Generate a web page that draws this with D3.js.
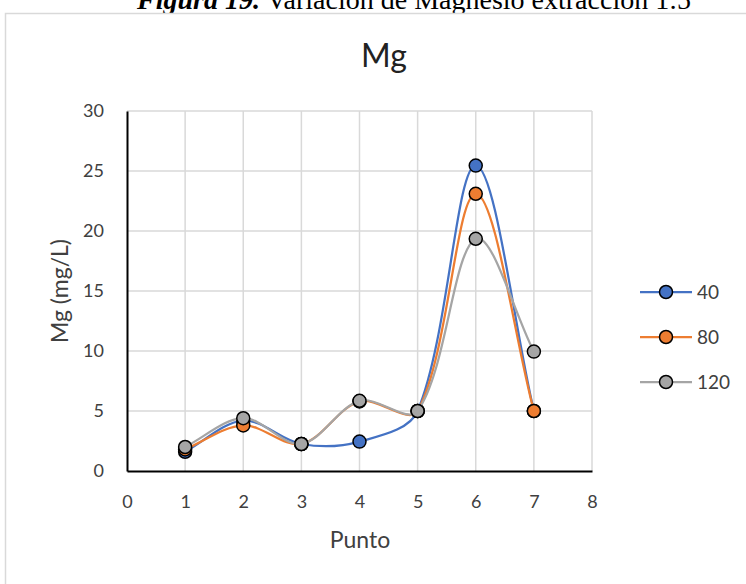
<!DOCTYPE html>
<html>
<head>
<meta charset="utf-8">
<script src="https://cdn.jsdelivr.net/npm/d3@7"></script>
<style>
  html, body { margin: 0; padding: 0; background: #fff; }
  svg { display: block; }
</style>
</head>
<body>
<svg id="chart" width="746" height="584"></svg>
<script>
// Magnesium per sampling point for three extraction times
const puntos = [1, 2, 3, 4, 5, 6, 7];
const serie40 = [1.6, 4.2, 2.25, 2.45, 5.0, 25.45, 5.0];
const serie80 = [1.8, 3.8, 2.25, 5.8, 5.0, 23.1, 5.0];
const serie120 = [2.0, 4.4, 2.25, 5.85, 5.0, 19.35, 9.95];
const seriesNames = ["40", "80", "120"];
const seriesColors = ["#4472C4", "#ED7D31", "#A5A5A5"];
const xTicks = [0, 1, 2, 3, 4, 5, 6, 7, 8];
const yTicks = [0, 5, 10, 15, 20, 25, 30];

const series = [serie40, serie80, serie120].map((vals, i) => ({
  name: seriesNames[i],
  color: seriesColors[i],
  points: puntos.map((p, j) => ({ x: p, y: vals[j] }))
}));

const svg = d3.select("#chart");
const font = "Lato, 'Open Sans', sans-serif";
const textColor = "#404040";

// Caption above the chart frame
svg.append("text")
  .attr("x", 137).attr("y", 9)
  .attr("font-family", "'Liberation Serif', 'Times New Roman', serif")
  .attr("font-size", 28)
  .attr("fill", "#000")
  .call(t => {
    t.append("tspan").attr("font-weight", "bold").attr("font-style", "italic").text("Figura 19.");
    t.append("tspan").text(" Variación de Magnesio extracción 1:5");
  });

// Chart frame
svg.append("rect")
  .attr("x", 5.5).attr("y", 13.5)
  .attr("width", 760).attr("height", 600)
  .attr("fill", "#fff")
  .attr("stroke", "#d9d9d9").attr("stroke-width", 1.5);

const x = d3.scaleLinear().domain([0, 8]).range([127, 592]);
const y = d3.scaleLinear().domain([0, 30]).range([471, 111]);

// Gridlines
const grid = svg.append("g");
grid.selectAll(".vg").data(xTicks.slice(1)).join("line")
  .attr("x1", d => x(d)).attr("x2", d => x(d))
  .attr("y1", y(30)).attr("y2", y(0))
  .attr("stroke", "#d9d9d9").attr("stroke-width", 1.5);
grid.selectAll(".hg").data(yTicks.slice(1)).join("line")
  .attr("x1", x(0)).attr("x2", x(8))
  .attr("y1", d => y(d)).attr("y2", d => y(d))
  .attr("stroke", "#d9d9d9").attr("stroke-width", 1.5);

// Axes
const xAxis = svg.append("g")
  .attr("transform", `translate(0,${y(0)})`)
  .call(d3.axisBottom(x).tickValues(xTicks).tickSize(0).tickPadding(24));
const yAxis = svg.append("g")
  .attr("transform", `translate(${x(0)},0)`)
  .call(d3.axisLeft(y).tickValues(yTicks).tickSize(0).tickPadding(23));
[xAxis, yAxis].forEach(a => {
  a.select(".domain").attr("stroke", "#000").attr("stroke-width", 2);
  a.selectAll("text").attr("font-family", font).attr("font-size", 18).attr("fill", textColor);
});

// Titles
svg.append("text")
  .attr("x", 384).attr("y", 67)
  .attr("text-anchor", "middle")
  .attr("font-family", font).attr("font-size", 32).attr("fill", "#222")
  .text("Mg");
svg.append("text")
  .attr("x", 360).attr("y", 548)
  .attr("text-anchor", "middle")
  .attr("font-family", font).attr("font-size", 23).attr("fill", textColor)
  .text("Punto");
svg.append("text")
  .attr("transform", "translate(68,291) rotate(-90)")
  .attr("text-anchor", "middle")
  .attr("font-family", font).attr("font-size", 23).attr("fill", textColor)
  .text("Mg (mg/L)");

// Smoothed line: cubic Bezier whose control arms follow the chord through
// the neighbouring points, each arm scaled by the adjacent segment length.
function smoothPath(pts, k = 1 / 3) {
  const n = pts.length;
  if (n < 2) return "";
  const dist = (a, b) => Math.hypot(b[0] - a[0], b[1] - a[1]);
  const outC = [], inC = [];
  for (let i = 0; i < n; i++) {
    const p = pts[i];
    const prev = pts[Math.max(0, i - 1)];
    const next = pts[Math.min(n - 1, i + 1)];
    const dx = next[0] - prev[0], dy = next[1] - prev[1];
    const dp = i > 0 ? dist(prev, p) : 0;
    const dn = i < n - 1 ? dist(p, next) : 0;
    const tot = dp + dn || 1;
    outC[i] = [p[0] + dx * k * dn / tot, p[1] + dy * k * dn / tot];
    inC[i] = [p[0] - dx * k * dp / tot, p[1] - dy * k * dp / tot];
  }
  const path = d3.path();
  path.moveTo(pts[0][0], pts[0][1]);
  for (let i = 0; i < n - 1; i++) {
    path.bezierCurveTo(outC[i][0], outC[i][1], inC[i + 1][0], inC[i + 1][1], pts[i + 1][0], pts[i + 1][1]);
  }
  return path.toString();
}

series.forEach(s => {
  const g = svg.append("g");
  g.append("path")
    .attr("d", smoothPath(s.points.map(d => [x(d.x), y(d.y)])))
    .attr("fill", "none")
    .attr("stroke", s.color).attr("stroke-width", 2.25);
  g.selectAll("circle").data(s.points).join("circle")
    .attr("cx", d => x(d.x)).attr("cy", d => y(d.y))
    .attr("r", 6.5)
    .attr("fill", s.color)
    .attr("stroke", "#000").attr("stroke-width", 1.5);
});

// Legend
const legend = svg.append("g");
series.forEach((s, i) => {
  const ly = 292 + i * 45;
  legend.append("line")
    .attr("x1", 640).attr("x2", 692)
    .attr("y1", ly).attr("y2", ly)
    .attr("stroke", s.color).attr("stroke-width", 2.25);
  legend.append("circle")
    .attr("cx", 666).attr("cy", ly).attr("r", 6.5)
    .attr("fill", s.color)
    .attr("stroke", "#000").attr("stroke-width", 1.5);
  legend.append("text")
    .attr("x", 697).attr("y", ly)
    .attr("dy", "0.35em")
    .attr("font-family", font).attr("font-size", 19).attr("fill", textColor)
    .text(s.name);
});
</script>
</body>
</html>
